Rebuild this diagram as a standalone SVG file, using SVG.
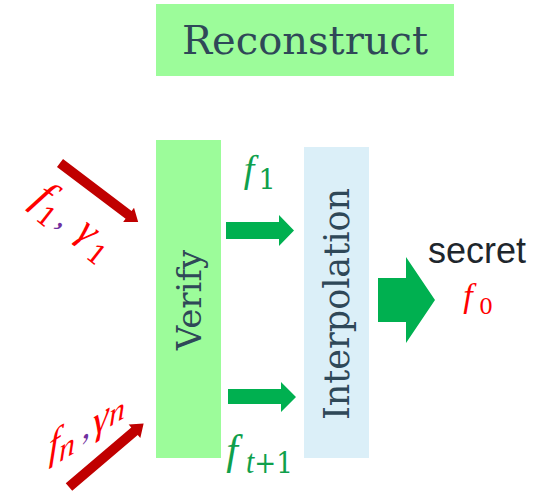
<svg xmlns="http://www.w3.org/2000/svg" width="556" height="491" viewBox="0 0 556 491">
  <defs>
    <style>
      .box-green { fill: #9cfc9a; }
      .box-blue { fill: #dbeff8; }
      .title { font-family: "DejaVu Serif", "Liberation Serif", serif; fill: #2f4858; }
      .math { font-family: "Liberation Serif", "DejaVu Serif", serif; }
      .num { font-family: "DejaVu Serif", "Liberation Serif", serif; }
      .it { font-style: italic; }
      .red { fill: #ff0000; }
      .purple { fill: #7030a0; }
      .mgreen { fill: #0fa04c; }
      .arrow-green { fill: #00b050; }
      .arrow-red { fill: #c00000; }
      .sans { font-family: "Liberation Sans", Arial, sans-serif; fill: #1e262c; }
    </style>
    <!-- thick red arrow pointing along +x, length 98 -->
    <polygon id="redArrow" points="0,-5 86,-5 86,-9 98,0 86,9 86,5 0,5"/>
  </defs>

  <!-- Reconstruct header -->
  <g id="reconstruct">
    <rect class="box-green" x="156" y="4" width="298" height="72"/>
    <text class="title" x="305" y="54" font-size="40" text-anchor="middle">Reconstruct</text>
  </g>

  <!-- Verify column -->
  <g id="verify">
    <rect class="box-green" x="156" y="140" width="65" height="318"/>
    <text class="title" transform="translate(201 300) rotate(-90)" font-size="34" text-anchor="middle">Verify</text>
  </g>

  <!-- Interpolation column -->
  <g id="interpolation">
    <rect class="box-blue" x="304" y="147" width="65" height="311"/>
    <text class="title" transform="translate(349 304) rotate(-90)" font-size="35" text-anchor="middle" textLength="232" lengthAdjust="spacingAndGlyphs">Interpolation</text>
  </g>

  <!-- secret output -->
  <g id="secret">
    <text class="sans" x="428" y="263" font-size="36">secret</text>
    <text class="math it red" x="468" y="307" font-size="34" text-anchor="middle">f</text>
    <text class="num red" x="486" y="314" font-size="22" text-anchor="middle">0</text>
  </g>

  <!-- share labels -->
  <g id="label-f1">
    <text class="math it mgreen" x="249" y="182" font-size="38" text-anchor="middle">f</text>
    <text class="num mgreen" x="267" y="189" font-size="27" text-anchor="middle">1</text>
  </g>
  <g id="label-ft1">
    <text class="math it mgreen" x="232" y="464" font-size="42" text-anchor="middle">f</text>
    <text class="num mgreen" x="246" y="473" font-size="30" textLength="47" lengthAdjust="spacingAndGlyphs"><tspan class="math it" font-size="34">t</tspan>+1</text>
  </g>

  <!-- incoming share / witness pairs -->
  <g id="input-1" transform="translate(29.1 201.3) rotate(38)">
    <text class="math it red" x="8" y="0" font-size="44" text-anchor="middle">f</text>
    <text class="num red" x="23" y="11" font-size="27" text-anchor="middle">1</text>
    <text class="math purple" x="39" y="1" font-size="34" text-anchor="middle">,</text>
    <text class="math it red" x="65" y="-1" font-size="40" text-anchor="middle">γ</text>
    <text class="num red" x="86" y="10" font-size="27" text-anchor="middle">1</text>
  </g>
  <g id="input-n" transform="translate(47 462) skewY(-32)">
    <text class="math it red" x="7" y="0" font-size="40" text-anchor="middle">f</text>
    <text class="math it red" x="20" y="8" font-size="32" text-anchor="middle">n</text>
    <text class="math purple" x="39" y="0" font-size="34" text-anchor="middle">,</text>
    <text class="math it red" x="54" y="3" font-size="40" text-anchor="middle">γ</text>
    <text class="math it red" x="70" y="4" font-size="32" text-anchor="middle">n</text>
  </g>

  <!-- connectors -->
  <g id="connectors">
    <use href="#redArrow" class="arrow-red" transform="translate(60 163) rotate(37.1)"/>
    <use href="#redArrow" class="arrow-red" transform="translate(69 487) rotate(-40.4)"/>
    <polygon class="arrow-green" points="226,222 279,222 279,215 294,230.5 279,246 279,239 226,239"/>
    <polygon class="arrow-green" points="228,389 281,389 281,382 296,397 281,412 281,404 228,404"/>
    <polygon class="arrow-green" points="378,278 406,278 406,257 435,300 406,343 406,322 378,322"/>
  </g>
</svg>
